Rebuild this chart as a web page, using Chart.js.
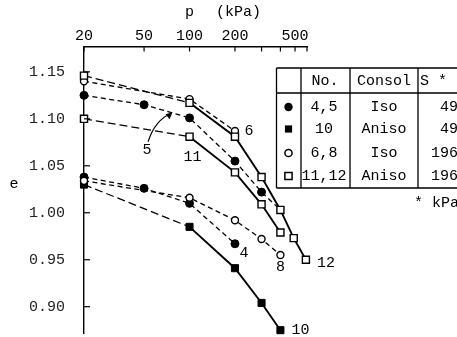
<!DOCTYPE html>
<html>
<head>
<meta charset="utf-8">
<script src="https://cdn.jsdelivr.net/npm/chart.js@4.4.1/dist/chart.umd.min.js"></script>
<style>
    html, body { margin: 0; padding: 0; background: #fff; }
    #wrap { position: relative; width: 457px; height: 337px; }
</style>
</head>
<body>
<div id="wrap"><canvas id="voidChart"></canvas></div>
<script>

// =====================================
// DATA (p in kPa, e = void ratio)
// =====================================

const xTicks = [20, 50, 100, 200, 300, 400, 500, 600];
const xTickLabels = ['20', '50', '100', '200', '', '', '500', ''];
const yTicks = [0.90, 0.95, 1.00, 1.05, 1.10, 1.15];

const p12 = [20, 100, 200, 300, 400, 490, 590];
const e12 = [1.146, 1.117, 1.081, 1.038, 1.003, 0.973, 0.950];

const p6 = [20, 100, 200];
const e6 = [1.140, 1.121, 1.087];

const p11 = [20, 100, 200, 300, 400];
const e11 = [1.100, 1.081, 1.043, 1.009, 0.979];

const p5 = [20, 50, 100, 200, 300, 400];
const e5 = [1.125, 1.115, 1.101, 1.055, 1.022, 1.003];

const p8 = [20, 100, 200, 300, 400];
const e8 = [1.034, 1.016, 0.992, 0.972, 0.955];

const p4 = [20, 50, 100, 200];
const e4 = [1.038, 1.026, 1.010, 0.967];

const p10 = [20, 100, 200, 300, 400];
const e10 = [1.030, 0.985, 0.941, 0.904, 0.875];

// legend table
const legendStyles = ['filledCircle', 'filledSquare', 'openCircle', 'openSquare'];
const legendNo = ['4,5', '10', '6,8', '11,12'];
const legendConsol = ['Iso', 'Aniso', 'Iso', 'Aniso'];
const legendS = ['49', '49', '196', '196'];

const FONT = '15px "Liberation Mono", "DejaVu Sans Mono", monospace';


// =====================================
// HELPERS
// =====================================

function toPoints(ps, es) {
    return ps.map((p, i) => ({ x: p, y: es[i] }));
}

const LONG_DASH = [8, 4];
const SHORT_DASH = [5, 3.5];

// first segment long-dashed, the rest solid
const dashFirst = {
    borderDash: ctx => ctx.p0DataIndex === 0 ? LONG_DASH : [],
    borderWidth: ctx => ctx.p0DataIndex === 0 ? 1.3 : 1.9
};

function series(data, marker, dashed, extra) {
    const filled = marker.startsWith('filled');
    const square = marker.endsWith('Square');
    return Object.assign({
        data: data,
        borderColor: '#000',
        borderWidth: dashed ? 1.3 : 1.9,
        borderDash: dashed ? SHORT_DASH : [],
        pointStyle: square ? 'rect' : 'circle',
        pointRadius: square ? 5 : (filled ? 4 : 3.5),
        pointBackgroundColor: filled ? '#000' : '#fff',
        pointBorderColor: '#000',
        pointBorderWidth: filled ? 1 : 1.4,
        tension: 0,
        fill: false,
        clip: false
    }, extra || {});
}


// =====================================
// ANNOTATIONS, TICKS AND TABLE
// =====================================

function drawMarker(ctx, style, cx, cy) {
    ctx.beginPath();
    if (style.endsWith('Circle')) {
        ctx.arc(cx, cy, style === 'filledCircle' ? 4.2 : 3.6, 0, Math.PI * 2);
    } else {
        ctx.rect(cx - 3.6, cy - 3.6, 7.2, 7.2);
    }
    if (style.startsWith('filled')) {
        ctx.fillStyle = '#000';
        ctx.fill();
    } else {
        ctx.fillStyle = '#fff';
        ctx.fill();
        ctx.lineWidth = 1.5;
        ctx.strokeStyle = '#000';
        ctx.stroke();
    }
}

const curveLabels = [
    { text: '6', p: 200, e: 1.087, dx: 14, dy: 0 },
    { text: '11', p: 100, e: 1.081, dx: 3, dy: 20 },
    { text: '4', p: 200, e: 0.967, dx: 9, dy: 9 },
    { text: '8', p: 400, e: 0.955, dx: 0, dy: 12 },
    { text: '12', p: 590, e: 0.950, dx: 20, dy: 3 },
    { text: '10', p: 400, e: 0.875, dx: 20, dy: 0 },
    { text: '5', p: 50, e: 1.115, dx: 3, dy: 45 }
];

const annotate = {
    id: 'annotate',
    afterDraw(chart) {
        const { ctx, chartArea, scales: { x, y } } = chart;
        ctx.save();

        // inward tick marks
        ctx.strokeStyle = '#000';
        ctx.lineWidth = 1.2;
        yTicks.forEach(v => {
            const py = y.getPixelForValue(v);
            ctx.beginPath();
            ctx.moveTo(chartArea.left, py);
            ctx.lineTo(chartArea.left + 6, py);
            ctx.stroke();
        });
        xTicks.forEach(v => {
            const px = x.getPixelForValue(v);
            ctx.beginPath();
            ctx.moveTo(px, chartArea.top);
            ctx.lineTo(px, chartArea.top + 5);
            ctx.stroke();
        });

        // axis titles
        ctx.font = FONT;
        ctx.fillStyle = '#000';
        ctx.textBaseline = 'middle';
        ctx.textAlign = 'center';
        ctx.fillText('p', x.getPixelForValue(100), 12);
        ctx.textAlign = 'left';
        ctx.fillText('(kPa)', 216, 12);
        ctx.textAlign = 'center';
        ctx.fillText('e', 14, 184);

        // curve numbers
        curveLabels.forEach(l => {
            ctx.fillText(l.text, x.getPixelForValue(l.p) + l.dx, y.getPixelForValue(l.e) + l.dy);
        });

        // arrow from "5" to its curve
        const ax = x.getPixelForValue(50) + 4, ay = y.getPixelForValue(1.115) + 37;
        const tx = x.getPixelForValue(76), ty = y.getPixelForValue(1.106);
        ctx.lineWidth = 1.2;
        ctx.beginPath();
        ctx.moveTo(ax, ay);
        ctx.quadraticCurveTo(ax + 7, ay - 22, tx, ty);
        ctx.stroke();
        ctx.beginPath();
        ctx.moveTo(tx + 1, ty - 1);
        ctx.lineTo(tx - 6, ty + 1);
        ctx.lineTo(tx - 2, ty + 6);
        ctx.closePath();
        ctx.fillStyle = '#000';
        ctx.fill();

        // legend table
        const L = 276.5, C1 = 301, C2 = 350, C3 = 418, R = 470;
        const T = 68, H = 93, B = 188;
        ctx.lineWidth = 1.3;
        ctx.beginPath();
        [T, H, B].forEach(ly => { ctx.moveTo(L, ly); ctx.lineTo(R, ly); });
        [L, C1, C2, C3].forEach(lx => { ctx.moveTo(lx, T); ctx.lineTo(lx, B); });
        ctx.stroke();

        ctx.fillStyle = '#000';
        ctx.textAlign = 'center';
        ctx.fillText('No.', 325, 81);
        ctx.fillText('Consol', 384, 81);
        ctx.textAlign = 'left';
        ctx.fillText('S *', 420, 81);

        const rowY = [107, 129, 153, 176];
        rowY.forEach((ry, i) => {
            drawMarker(ctx, legendStyles[i], 288.5, ry);
            ctx.fillStyle = '#000';
            ctx.textAlign = 'center';
            ctx.fillText(legendNo[i], 324, ry);
            ctx.fillText(legendConsol[i], 384, ry);
            ctx.textAlign = 'right';
            ctx.fillText(legendS[i], 458, ry);
        });
        ctx.fillText('* kPa', 459, 203);

        ctx.restore();
    }
};


// =====================================
// CHART
// =====================================

new Chart(document.getElementById('voidChart'), {

    type: 'line',

    data: {
        datasets: [
            series(toPoints(p12, e12), 'openSquare', false, { segment: dashFirst }),
            series(toPoints(p6, e6), 'openCircle', true),
            series(toPoints(p11, e11), 'openSquare', false, { segment: dashFirst }),
            series(toPoints(p5, e5), 'filledCircle', true, { pointRadius: [4, 4, 4, 4, 4, 0] }),
            series(toPoints(p8, e8), 'openCircle', true),
            series(toPoints(p4, e4), 'filledCircle', true),
            series(toPoints(p10, e10), 'filledSquare', false, { segment: dashFirst })
        ]
    },

    options: {

        responsive: true,
        maintainAspectRatio: false,
        animation: false,

        layout: {
            autoPadding: false,
            padding: { left: 0, top: 0, right: 150, bottom: 4 }
        },

        plugins: {
            legend: { display: false },
            tooltip: { enabled: false }
        },

        scales: {

            x: {
                type: 'logarithmic',
                position: 'top',
                min: 20,
                max: 600,
                afterFit: scale => {
                    scale.height = 46.5;
                    scale.paddingLeft = 0;
                    scale.paddingRight = 0;
                },
                afterBuildTicks: scale => {
                    scale.ticks = xTicks.map(v => ({ value: v }));
                },
                ticks: {
                    color: '#000',
                    font: { family: '"Liberation Mono", monospace', size: 15 },
                    padding: -7,
                    maxRotation: 0,
                    autoSkip: false,
                    callback: (value) => xTickLabels[xTicks.indexOf(value)] || ''
                },
                grid: { display: false },
                border: { display: true, color: '#000', width: 1.4 }
            },

            y: {
                type: 'linear',
                min: 0.872,
                max: 1.177,
                afterFit: scale => {
                    scale.width = 84;
                    scale.paddingTop = 0;
                    scale.paddingBottom = 0;
                },
                afterBuildTicks: scale => {
                    scale.ticks = yTicks.map(v => ({ value: v }));
                },
                ticks: {
                    color: '#222',
                    font: { family: '"Liberation Mono", monospace', size: 15 },
                    padding: 11,
                    callback: value => value.toFixed(2)
                },
                grid: { display: false },
                border: { display: true, color: '#000', width: 1.4 }
            }
        }
    },

    plugins: [annotate]
});

</script>
</body>
</html>
